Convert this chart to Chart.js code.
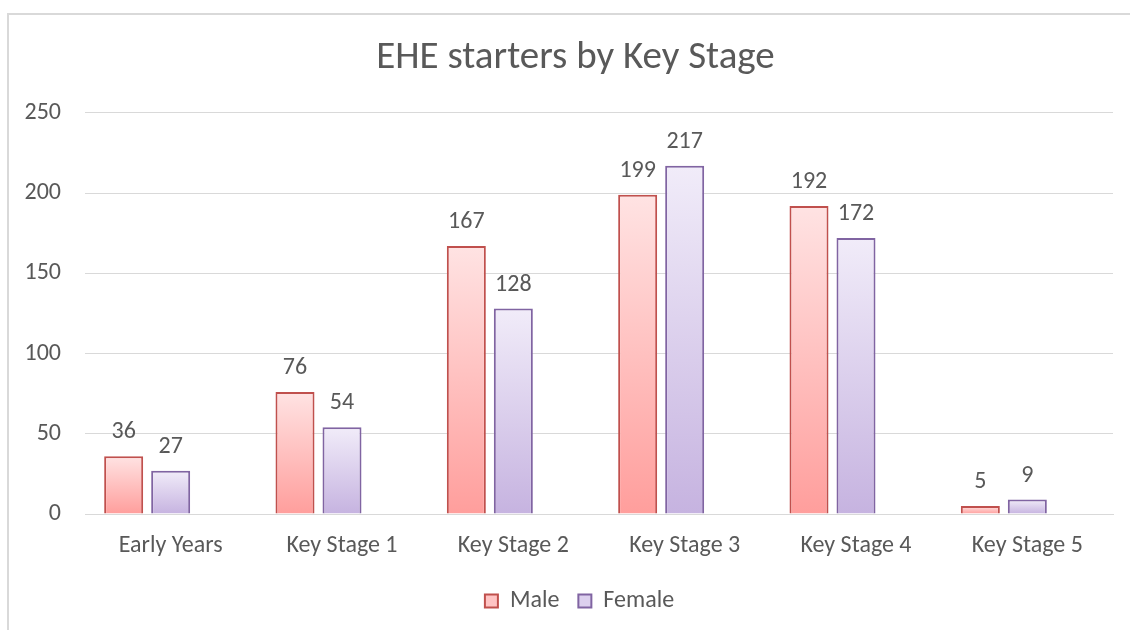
<!DOCTYPE html>
<html>
<head>
<meta charset="utf-8">
<script src="https://cdn.jsdelivr.net/npm/chart.js@4/dist/chart.umd.min.js"></script>
<style>
  body { margin: 0; background: #fff; }
  #wrap { position: relative; width: 1130px; height: 630px; }
  #frame { position: absolute; left: 7px; top: 13px; width: 1140px; height: 640px; border: 2px solid #d9d9d9; box-sizing: border-box; }
  canvas { position: absolute; left: 0; top: 0; }
</style>
</head>
<body>
<div id="wrap">
  <div id="frame"></div>
  <canvas id="chart" width="1130" height="630"></canvas>
</div>
<script>
const categories = ['Early Years', 'Key Stage 1', 'Key Stage 2', 'Key Stage 3', 'Key Stage 4', 'Key Stage 5'];
const maleValues = [36, 76, 167, 199, 192, 5];
const femaleValues = [27, 54, 128, 217, 172, 9];
// the source chart keeps an empty third series slot, which shifts the pairs left
const emptySlot = [null, null, null, null, null, null];
const yTicks = [0, 50, 100, 150, 200, 250];

const textColor = '#595959';
const fontFamily = 'Calibri, Carlito, "Open Sans", "Noto Sans", sans-serif';

// gradient from bar top to the zero line, like the Excel fill
function barFill(topColor, bottomColor) {
    return function (ctx) {
        const chart = ctx.chart;
        if (!chart.chartArea || ctx.raw == null) return bottomColor;
        const y = chart.scales.y;
        const top = y.getPixelForValue(ctx.raw);
        const base = y.getPixelForValue(0);
        const g = chart.ctx.createLinearGradient(0, top, 0, base);
        g.addColorStop(0, topColor);
        g.addColorStop(1, bottomColor);
        return g;
    };
}

// value labels above each bar
const valueLabels = {
    id: 'valueLabels',
    afterDatasetsDraw(chart) {
        const c = chart.ctx;
        c.save();
        c.font = '24px ' + fontFamily;
        c.fillStyle = textColor;
        c.textAlign = 'center';
        c.textBaseline = 'middle';
        chart.data.datasets.forEach((ds, i) => {
            if (ds.label === '') return;
            chart.getDatasetMeta(i).data.forEach((bar, j) => {
                c.fillText(ds.data[j], bar.x, bar.y - 24);
            });
        });
        c.restore();
    }
};

// Excel centres title and legend on the whole frame, not the plot
const centreOnFrame = {
    id: 'centreOnFrame',
    afterLayout(chart) {
        if (chart.titleBlock) chart.titleBlock.left += 38;
        if (chart.legend) chart.legend.left += 46;
    }
};

const ctx = document.getElementById('chart').getContext('2d');
new Chart(ctx, {
    type: 'bar',
    data: {
        labels: categories,
        datasets: [{
            label: 'Male',
            data: maleValues,
            backgroundColor: barFill('#ffe3e3', '#ff9e9c'),
            borderColor: '#c0504d',
            borderWidth: 2,
            categoryPercentage: 0.823,
            barPercentage: 0.83
        }, {
            label: 'Female',
            data: femaleValues,
            backgroundColor: barFill('#f1ecf9', '#c6b3e0'),
            borderColor: '#8064a2',
            borderWidth: 2,
            categoryPercentage: 0.823,
            barPercentage: 0.83
        }, {
            label: '',
            data: emptySlot,
            categoryPercentage: 0.823,
            barPercentage: 0.83
        }]
    },
    options: {
        responsive: false,
        animation: false,
        layout: { padding: { left: 0, right: 17, top: 0, bottom: 7 } },
        plugins: {
            title: {
                display: true,
                text: 'EHE starters by Key Stage',
                color: textColor,
                font: { family: fontFamily, size: 39, weight: 'normal' },
                padding: { top: 35, bottom: 31 }
            },
            legend: {
                position: 'bottom',
                labels: {
                    color: textColor,
                    font: { family: fontFamily, size: 24 },
                    boxWidth: 13,
                    boxHeight: 13,
                    padding: 19,
                    generateLabels(chart) {
                        return [
                            { text: 'Male', fillStyle: '#ffc4c4', strokeStyle: '#c0504d', lineWidth: 2, fontColor: textColor, datasetIndex: 0 },
                            { text: 'Female', fillStyle: '#dcd0ee', strokeStyle: '#8064a2', lineWidth: 2, fontColor: textColor, datasetIndex: 1 }
                        ];
                    }
                }
            },
            tooltip: { enabled: false }
        },
        scales: {
            x: {
                afterFit(scale) { scale.height = 56; },
                grid: { display: false, drawTicks: false },
                border: { display: true, color: '#d9d9d9', width: 1 },
                ticks: { color: textColor, font: { family: fontFamily, size: 24 }, padding: 18 }
            },
            y: {
                min: 0,
                max: 250,
                afterFit(scale) { scale.width = 85; },
                afterBuildTicks(scale) { scale.ticks = yTicks.map(v => ({ value: v })); },
                grid: { color: '#d9d9d9', lineWidth: 1, drawTicks: false },
                border: { display: false },
                ticks: { color: textColor, font: { family: fontFamily, size: 24 }, padding: 24 }
            }
        }
    },
    plugins: [valueLabels, centreOnFrame]
});
</script>
</body>
</html>
